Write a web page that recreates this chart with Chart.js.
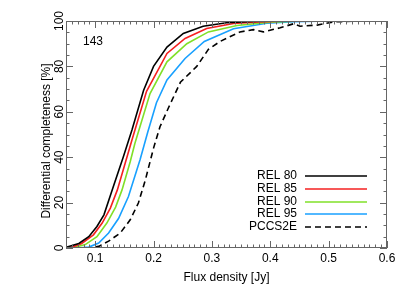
<!DOCTYPE html>
<html>
<head>
<meta charset="utf-8">
<script src="https://cdn.jsdelivr.net/npm/chart.js@4"></script>
<style>
  html, body { margin: 0; padding: 0; background: #fff; }
  canvas { display: block; }
</style>
</head>
<body>
<canvas id="mainChart" width="407" height="291"></canvas>
<script>
// values
const rel80Flux = [0.05, 0.072, 0.089, 0.103, 0.115, 0.131, 0.148, 0.163, 0.183, 0.2, 0.223, 0.251, 0.285, 0.325, 0.37, 0.42, 0.5];
const rel80Comp = [0.3, 2, 5, 9.5, 14.6, 27, 40, 52, 69.5, 80, 88.5, 94.5, 97.7, 99.2, 99.8, 100, 100];

const rel85Flux = [0.05, 0.06, 0.077, 0.097, 0.112, 0.126, 0.138, 0.151, 0.163, 0.188, 0.223, 0.254, 0.291, 0.337, 0.38, 0.43, 0.5];
const rel85Comp = [0.1, 0.4, 2, 5.8, 11, 17.6, 25.6, 37, 47.6, 69, 85.7, 92.3, 96.7, 98.9, 99.6, 100, 100];

const rel90Flux = [0.05, 0.065, 0.083, 0.103, 0.12, 0.135, 0.146, 0.16, 0.168, 0.194, 0.223, 0.257, 0.294, 0.343, 0.4, 0.45, 0.5];
const rel90Comp = [0, 0.3, 1.5, 5, 11, 18, 25.6, 38, 46, 68, 82, 90, 95.2, 98, 99.5, 100, 100];

const rel95Flux = [0.05, 0.07, 0.089, 0.106, 0.123, 0.14, 0.157, 0.177, 0.19, 0.205, 0.223, 0.254, 0.287, 0.337, 0.394, 0.44, 0.5];
const rel95Comp = [0, 0, 0.4, 2.2, 6.6, 13, 22.7, 39, 51, 64, 74, 83.5, 91, 96.6, 99, 99.7, 100];

const pccsFlux = [0.05, 0.09, 0.106, 0.123, 0.143, 0.16, 0.174, 0.186, 0.2, 0.211, 0.226, 0.246, 0.274, 0.294, 0.314, 0.348, 0.371, 0.388, 0.417, 0.44, 0.451, 0.48, 0.509, 0.549, 0.56];
const pccsComp = [0, 0, 0.7, 3, 6.6, 12.4, 19.8, 30, 44, 53.4, 62, 73, 80, 87.5, 91, 95.2, 96.2, 95.2, 97, 98.8, 97.7, 98.2, 99.6, 100, 100];

const seriesLabels = ['REL 80', 'REL 85', 'REL 90', 'REL 95', 'PCCS2E'];
const seriesColors = ['#000000', '#f52020', '#80e028', '#18a0ff', '#000000'];

const xTickValues = [0.1, 0.2, 0.3, 0.4, 0.5, 0.6];
const xTickLabels = ['0.1', '0.2', '0.3', '0.4', '0.5', '0.6'];
const yTickValues = [0, 20, 40, 60, 80, 100];
const yTickLabels = ['0', '20', '40', '60', '80', '100'];

const panelLabel = '143';
const xTitle = 'Flux density [Jy]';
const yTitle = 'Differential completeness [%]';

const FONT = '12px "Liberation Sans", Arial, sans-serif';

function toPoints(xs, ys) {
    return xs.map((x, i) => ({ x: x, y: ys[i] }));
}

const series = [
    toPoints(rel80Flux, rel80Comp),
    toPoints(rel85Flux, rel85Comp),
    toPoints(rel90Flux, rel90Comp),
    toPoints(rel95Flux, rel95Comp),
    toPoints(pccsFlux, pccsComp)
];

// frame, inward ticks, rotated y labels, legend
const idlAxes = {
    id: 'idlAxes',
    afterDraw(chart) {
        const ctx = chart.ctx;
        const a = chart.chartArea;
        const xs = chart.scales.x;
        const ys = chart.scales.y;
        ctx.save();

        ctx.strokeStyle = '#666';
        ctx.lineWidth = 1;
        ctx.strokeRect(a.left + 0.5, a.top + 0.5, a.right - a.left - 1, a.bottom - a.top - 1);

        ctx.beginPath();
        for (let v = 0.05; v <= 0.6001; v += 0.01) {
            const major = Math.abs(v * 10 - Math.round(v * 10)) < 1e-6;
            const len = major ? 7 : 3.5;
            const px = Math.round(xs.getPixelForValue(v)) + 0.5;
            ctx.moveTo(px, a.bottom);
            ctx.lineTo(px, a.bottom - len);
            ctx.moveTo(px, a.top);
            ctx.lineTo(px, a.top + len);
        }
        for (let v = 0; v <= 100; v += 5) {
            const len = v % 20 === 0 ? 7 : 3.5;
            const py = Math.round(ys.getPixelForValue(v)) + 0.5;
            ctx.moveTo(a.left, py);
            ctx.lineTo(a.left + len, py);
            ctx.moveTo(a.right, py);
            ctx.lineTo(a.right - len, py);
        }
        ctx.stroke();

        ctx.fillStyle = '#000';
        ctx.font = FONT;
        ctx.textAlign = 'center';
        ctx.textBaseline = 'middle';
        xTickValues.forEach((v, i) => {
            ctx.fillText(xTickLabels[i], xs.getPixelForValue(v), 259);
        });
        ctx.fillText(xTitle, (a.left + a.right) / 2, 278);

        yTickValues.forEach((v, i) => {
            ctx.save();
            ctx.translate(60, ys.getPixelForValue(v));
            ctx.rotate(-Math.PI / 2);
            ctx.fillText(yTickLabels[i], 0, 0);
            ctx.restore();
        });
        ctx.save();
        ctx.translate(47, 141);
        ctx.rotate(-Math.PI / 2);
        ctx.fillText(yTitle, 0, 0);
        ctx.restore();

        ctx.textAlign = 'left';
        ctx.fillText(panelLabel, 83, 42);

        // legend
        const rowY = [176, 189, 202, 214, 227];
        chart.data.datasets.forEach((ds, i) => {
            ctx.textAlign = 'right';
            ctx.fillStyle = '#000';
            ctx.fillText(ds.label, 297, rowY[i]);
            ctx.strokeStyle = ds.borderColor;
            ctx.lineWidth = 1.6;
            ctx.setLineDash(ds.borderDash || []);
            ctx.beginPath();
            ctx.moveTo(305, rowY[i]);
            ctx.lineTo(367, rowY[i]);
            ctx.stroke();
        });
        ctx.restore();
    }
};

new Chart(document.getElementById('mainChart').getContext('2d'), {
    type: 'line',
    data: {
        datasets: series.map((pts, i) => ({
            label: seriesLabels[i],
            data: pts,
            borderColor: seriesColors[i],
            borderWidth: 1.6,
            borderDash: i === 4 ? [6, 4] : [],
            pointRadius: 0,
            tension: 0,
            fill: false
        }))
    },
    options: {
        responsive: false,
        animation: false,
        layout: { padding: { left: 66, right: 20, top: 21, bottom: 43 } },
        plugins: {
            legend: { display: false },
            tooltip: { enabled: false }
        },
        scales: {
            x: { type: 'linear', display: false, min: 0.05, max: 0.6 },
            y: { type: 'linear', display: false, min: 0, max: 100 }
        }
    },
    plugins: [idlAxes]
});
</script>
</body>
</html>
